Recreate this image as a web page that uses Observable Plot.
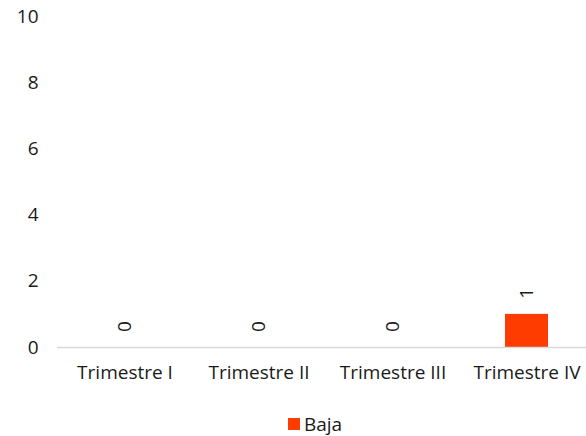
<!DOCTYPE html>
<html><head><meta charset="utf-8">
<script src="https://cdn.jsdelivr.net/npm/d3@7"></script>
<script src="https://cdn.jsdelivr.net/npm/@observablehq/plot@0.6"></script>
<style>
html,body{margin:0;background:#fff;font-family:"Open Sans",sans-serif;overflow:hidden;}
#chart svg text{font-size:19px;}
#legend{position:absolute;left:0;top:413px;width:586px;height:22px;line-height:22px;display:flex;justify-content:center;align-items:center;font-size:19px;color:#1a1a1a;padding-left:44px;box-sizing:border-box;}
#legend span.sw{display:inline-block;width:12px;height:12px;background:#ff3c00;margin-right:4px;}
</style></head>
<body>
<div id="chart"></div>
<div id="legend"><span class="sw"></span><span>Baja</span></div>
<script>
const categories = ["Trimestre I","Trimestre II","Trimestre III","Trimestre IV"];
const values = [0,0,0,1];
const series = "Baja";
const yTicks = [0,2,4,6,8,10];
const data = categories.map((c,i)=>({cat:c, value:values[i]}));
const chart = Plot.plot({
  width:586, height:400,
  marginTop:16, marginBottom:53, marginLeft:57, marginRight:0,
  style:{fontFamily:"Open Sans, sans-serif", fontSize:"19px", color:"#1a1a1a", background:"#fff"},
  x:{domain:categories, range:[57,594], paddingInner:0.68, paddingOuter:0.34, align:0.5, label:null},
  y:{domain:[0,10], ticks:yTicks, label:null},
  marks:[
    Plot.axisY({ticks:yTicks, tickSize:0, tickPadding:19, label:null}),
    Plot.axisX({tickSize:0, tickPadding:18, label:null}),
    Plot.barY(data,{x:"cat", y:"value", fill:"#ff3c00"}),
    Plot.ruleY([0],{stroke:"#d9d9d9", strokeWidth:1.5}),
    Plot.text(data,{x:"cat", y:"value", text:d=>String(d.value), rotate:-90, dy:-21, fill:"#1a1a1a"})
  ]
});
document.getElementById("chart").appendChild(chart);
</script>
</body></html>
